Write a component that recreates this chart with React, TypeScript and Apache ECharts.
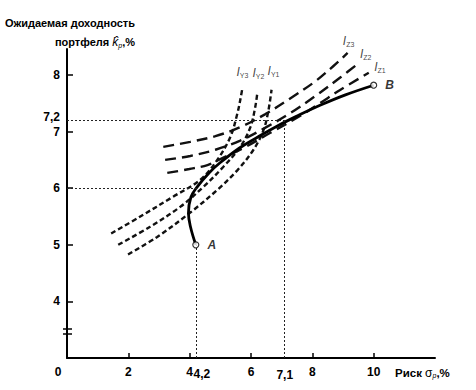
import React, { useEffect, useRef } from "react";
import * as echarts from "echarts";

// Efficient frontier (risk σp, expected return kp)
const frontierX = [4.2, 4.03, 3.96, 4.04, 4.24, 4.63, 4.99, 5.65, 6.21, 6.86, 7.52, 8.27, 9.08, 10.0];
const frontierY = [5.0, 5.31, 5.56, 5.84, 6.02, 6.27, 6.45, 6.72, 6.9, 7.1, 7.28, 7.47, 7.65, 7.82];

// Investor Y indifference curves
const iy3X = [1.44, 2.39, 3.46, 4.35, 4.9, 5.33, 5.56, 5.65, 5.72];
const iy3Y = [5.2, 5.5, 5.85, 6.15, 6.5, 6.91, 7.33, 7.56, 7.77];
const iy2X = [1.67, 2.71, 3.69, 4.44, 5.1, 5.65, 5.98, 6.14, 6.21];
const iy2Y = [5.0, 5.32, 5.67, 6.02, 6.38, 6.73, 7.08, 7.44, 7.7];
const iy1X = [1.99, 2.94, 4.02, 4.9, 5.56, 6.08, 6.41, 6.57, 6.67];
const iy1Y = [4.83, 5.14, 5.57, 5.97, 6.32, 6.68, 7.03, 7.38, 7.74];

// Investor Z indifference curves
const iz3X = [3.14, 4.02, 4.84, 5.65, 6.47, 7.29, 8.1, 8.69, 9.15];
const iz3Y = [6.73, 6.82, 6.92, 7.08, 7.31, 7.59, 7.89, 8.16, 8.39];
const iz2X = [3.2, 4.02, 4.84, 5.65, 6.47, 7.29, 8.1, 8.92, 9.51];
const iz2Y = [6.5, 6.57, 6.68, 6.84, 7.07, 7.33, 7.63, 7.96, 8.21];
const iz1X = [3.27, 3.99, 4.58, 5.1, 5.82, 6.63, 7.61, 8.27, 8.92, 9.84];
const iz1Y = [6.27, 6.34, 6.41, 6.54, 6.73, 6.98, 7.28, 7.51, 7.74, 8.04];

// Curve subscripts (label shown at each curve's upper end)
const curveSubs = ["Y3", "Y2", "Y1", "Z3", "Z2", "Z1"];

// End points
const pointNames = ["A", "B"];
const pointX = [4.2, 10.0];
const pointY = [5.0, 7.82];

// Optimal portfolios (dotted guide lines)
const optY = { x: 4.2, y: 6.0, frontierXAtY: 4.23 };
const optZ = { x: 7.1, y: 7.2 };

// Axis ticks and labels
const xTickValues = [2, 4, 6, 8, 10];
const xLabelValues = [0, 2, 4, 4.2, 6, 7.1, 8, 10];
const xLabelTexts = ["0", "2", "4", "4,2", "6", "7,1", "8", "10"];
const yTickValues = [4, 5, 6, 7, 8];
const yLabelValues = [4, 5, 6, 7, 7.2, 8];
const yLabelTexts = ["4", "5", "6", "7", "7,2", "8"];

const FONT = '"Liberation Sans", Arial, sans-serif';

const zip = (xs: number[], ys: number[]) => xs.map((x, i) => [x, ys[i]]);

function curve(name: string, xs: number[], ys: number[], dash: number[]) {
  return {
    name,
    type: "line",
    data: zip(xs, ys),
    smooth: 0.35,
    showSymbol: false,
    symbol: "none",
    silent: true,
    lineStyle: { color: "#111", width: 2.4, type: dash },
    z: 3,
  };
}

export default function App() {
  const ref = useRef<HTMLDivElement>(null);
  useEffect(() => {
    const chart = echarts.init(ref.current!, null, { renderer: "svg" });
    const shortDash = [5, 3];
    const longDash = [11, 6];
    const curvesXY = [
      [iy3X, iy3Y],
      [iy2X, iy2Y],
      [iy1X, iy1Y],
      [iz3X, iz3Y],
      [iz2X, iz2Y],
      [iz1X, iz1Y],
    ];
    const labelPlacement: any[] = [
      { position: "top", distance: 9 },
      { position: "top", distance: 12, offset: [1, 0] },
      { position: "top", distance: 11, offset: [2, 0] },
      { position: "top", distance: 4, offset: [1, 0] },
      { position: "top", distance: 2, offset: [7, 0] },
      { position: "right", distance: 5, offset: [0, -6] },
    ];
    const curveLabelData = curvesXY.map(([xs, ys], i) => ({
      value: [xs[xs.length - 1], ys[ys.length - 1]],
      label: { ...labelPlacement[i] },
    }));

    const option: any = {
      animation: false,
      backgroundColor: "#fff",
      textStyle: { fontFamily: FONT },
      grid: { left: 67, right: 41, top: 49, bottom: 32, containLabel: false },
      xAxis: {
        type: "value",
        min: 0,
        max: 12,
        axisLine: { show: true, lineStyle: { color: "#000", width: 2 } },
        axisTick: { show: true, inside: true, length: 5, customValues: xTickValues, lineStyle: { color: "#000", width: 1.5 } },
        splitLine: { show: false },
        axisLabel: {
          customValues: xLabelValues,
          margin: 8,
          color: "#000",
          fontSize: 12,
          fontWeight: "bold",
          fontFamily: FONT,
          formatter: (v: number) => {
            const i = xLabelValues.indexOf(v);
            const t = i >= 0 ? xLabelTexts[i] : "";
            if (v === 0) return `{z|${t}}`;
            if (v === 4.2) return `{a|${t}}`;
            if (v === 7.1) return `{b|${t}}`;
            return t;
          },
          rich: {
            z: { fontSize: 12, fontWeight: "bold", fontFamily: FONT, color: "#000", padding: [0, 18, 0, 0] },
            a: { fontSize: 12, fontFamily: FONT, color: "#000", padding: [2, 0, 0, 12] },
            b: { fontSize: 12, fontFamily: FONT, color: "#000", padding: [3, 0, 0, 0] },
          },
        },
        name: "{t|Риск }{g|σ}{p|p}{t|,%}",
        nameLocation: "end",
        nameGap: -40,
        nameTextStyle: {
          verticalAlign: "top",
          align: "left",
          padding: [8, 0, 0, 0],
          rich: {
            t: { fontSize: 11.5, fontWeight: "bold", fontFamily: FONT, color: "#000" },
            g: { fontSize: 12, fontFamily: FONT, color: "#000" },
            p: { fontSize: 7, fontStyle: "italic", fontFamily: FONT, color: "#000", verticalAlign: "bottom", padding: [6, 0, 0, 0] },
          },
        },
      },
      yAxis: {
        type: "value",
        min: 3,
        max: 8.46,
        axisLine: { show: true, lineStyle: { color: "#000", width: 2 } },
        axisTick: { show: true, inside: true, length: 6, customValues: yTickValues, lineStyle: { color: "#000", width: 1.5 } },
        splitLine: { show: false },
        axisLabel: {
          customValues: yLabelValues,
          margin: 7,
          color: "#000",
          fontSize: 12,
          lineHeight: 12,
          fontWeight: "bold",
          fontFamily: FONT,
          formatter: (v: number) => {
            const i = yLabelValues.indexOf(v);
            const t = i >= 0 ? yLabelTexts[i] : "";
            if (v === 7.2) return `{c|${t}}`;
            return t;
          },
          rich: {
            c: { fontSize: 12, lineHeight: 12, fontFamily: FONT, color: "#000", padding: [0, 0, 6, 0] },
          },
        },
      },
      graphic: [
        {
          type: "text",
          x: 135,
          y: 23,
          style: {
            text: "Ожидаемая доходность",
            align: "right",
            verticalAlign: "middle",
            fontSize: 11,
            fontWeight: "bold",
            fontFamily: FONT,
            fill: "#000",
          },
        },
        {
          type: "text",
          x: 135,
          y: 42,
          style: {
            text: "{t|портфеля }{k|k̂}{p|p}{t|,%}",
            align: "right",
            verticalAlign: "middle",
            rich: {
              t: { fontSize: 11, fontWeight: "bold", fontFamily: FONT, fill: "#000", color: "#000" },
              k: { fontSize: 12, fontStyle: "italic", fontFamily: FONT, fill: "#000", color: "#000" },
              p: { fontSize: 7, fontStyle: "italic", fontFamily: FONT, fill: "#000", color: "#000", verticalAlign: "bottom", padding: [6, 0, 0, 0] },
            },
          },
        },
        { type: "line", shape: { x1: 63, y1: 329, x2: 72, y2: 329 }, style: { stroke: "#000", lineWidth: 1.5 } },
        { type: "line", shape: { x1: 63, y1: 334, x2: 72, y2: 334 }, style: { stroke: "#000", lineWidth: 1.5 } },
      ],
      series: [
        curve("IY3", iy3X, iy3Y, shortDash),
        curve("IY2", iy2X, iy2Y, shortDash),
        curve("IY1", iy1X, iy1Y, shortDash),
        curve("IZ3", iz3X, iz3Y, longDash),
        curve("IZ2", iz2X, iz2Y, longDash),
        curve("IZ1", iz1X, iz1Y, longDash),
        {
          name: "frontier",
          type: "line",
          data: zip(frontierX, frontierY),
          smooth: 0.4,
          showSymbol: false,
          symbol: "none",
          silent: true,
          lineStyle: { color: "#000", width: 2.8 },
          z: 4,
          markLine: {
            silent: true,
            symbol: ["none", "none"],
            label: { show: false },
            lineStyle: { color: "#222", width: 1, type: [2, 2] },
            data: [
              [{ coord: [0, optY.y] }, { coord: [optY.frontierXAtY, optY.y] }],
              [{ coord: [optY.x, 3] }, { coord: [pointX[0], pointY[0]] }],
              [{ coord: [0, optZ.y] }, { coord: [optZ.x, optZ.y] }],
              [{ coord: [optZ.x, 3] }, { coord: [optZ.x, optZ.y] }],
            ],
          },
        },
        {
          name: "curveLabels",
          type: "scatter",
          data: curveLabelData,
          symbol: "circle",
          symbolSize: 1,
          silent: true,
          z: 6,
          itemStyle: { color: "rgba(0,0,0,0)" },
          label: {
            show: true,
            formatter: (p: any) => `{i|I}{s|${curveSubs[p.dataIndex]}}`,
            rich: {
              i: { fontStyle: "italic", fontSize: 12, fontFamily: FONT, color: "#111" },
              s: { fontSize: 7, fontFamily: FONT, color: "#111", verticalAlign: "bottom", padding: [7, 0, 0, 0] },
            },
          },
        },
        {
          name: "points",
          type: "scatter",
          data: zip(pointX, pointY),
          symbol: "circle",
          symbolSize: 6,
          silent: true,
          z: 5,
          itemStyle: { color: "#fff", borderColor: "#000", borderWidth: 1.2 },
          label: {
            show: true,
            position: "right",
            distance: 8,
            formatter: (p: any) => pointNames[p.dataIndex],
            fontStyle: "italic",
            fontWeight: "bold",
            fontSize: 12,
            fontFamily: FONT,
            color: "#000",
          },
        },
      ],
    };
    chart.setOption(option);
    return () => chart.dispose();
  }, []);
  return (
    <div
      ref={ref}
      style={{ position: "fixed", left: 0, top: 0, width: 476, height: 390, background: "#fff" }}
    />
  );
}
